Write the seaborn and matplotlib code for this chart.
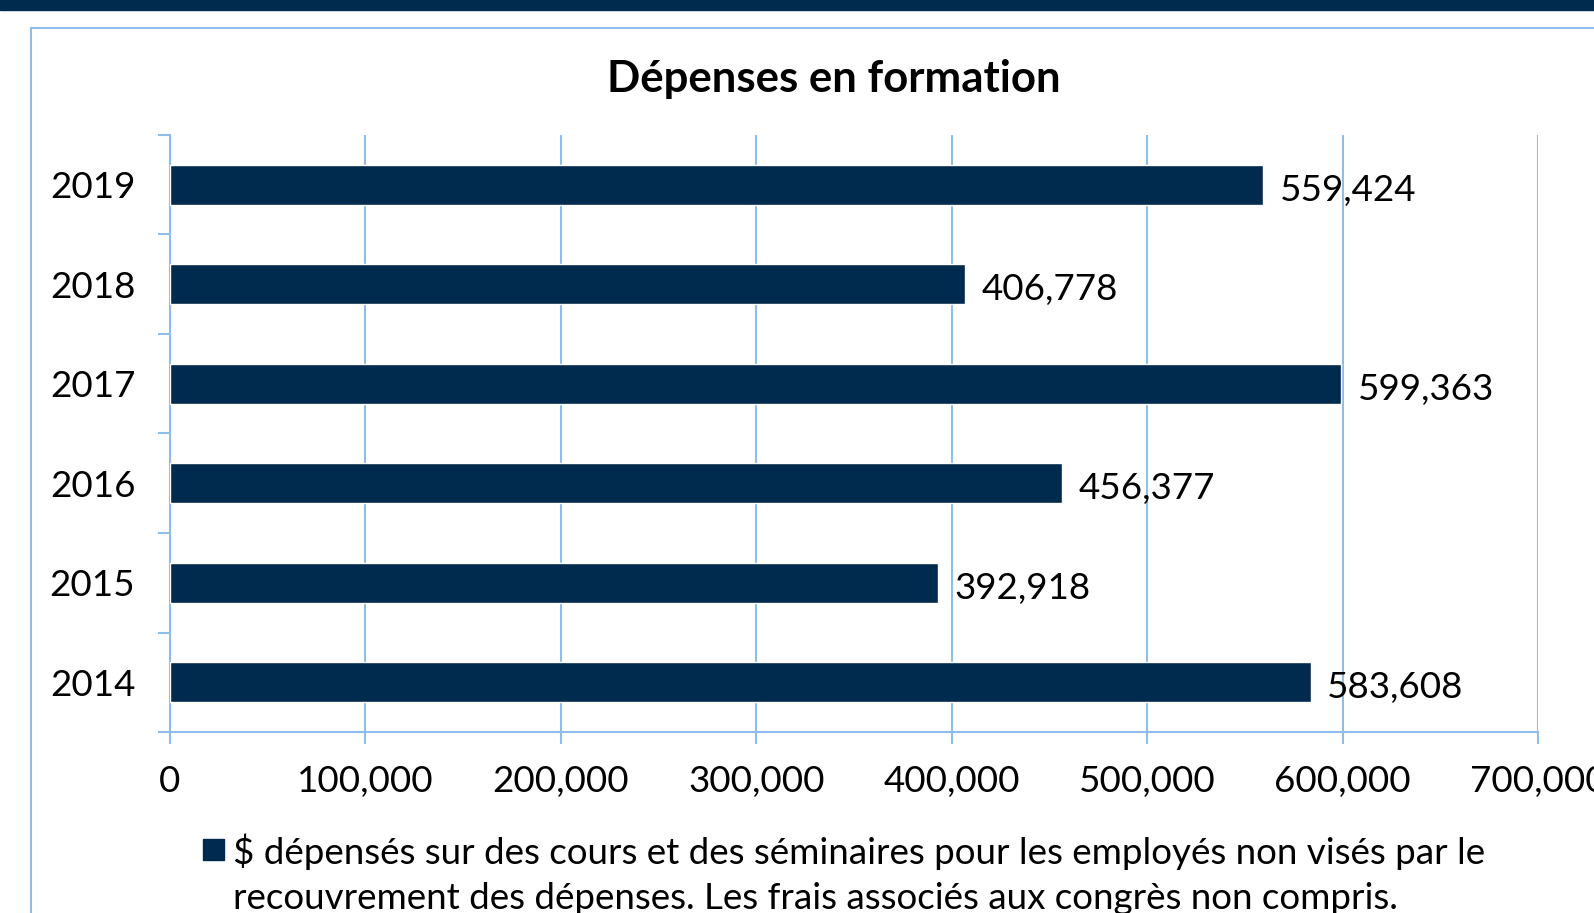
import pandas as pd
import matplotlib.pyplot as plt
import seaborn as sns
from matplotlib.patches import Rectangle
from matplotlib.ticker import FixedLocator, FuncFormatter

years = ['2019', '2018', '2017', '2016', '2015', '2014']
spent = [559424, 406778, 599363, 456377, 392918, 583608]
xticks = [0, 100000, 200000, 300000, 400000, 500000, 600000, 700000]
title = 'Dépenses en formation'
legend_lines = ['$ dépensés sur des cours et des séminaires pour les employés non visés par le',
                'recouvrement des dépenses. Les frais associés aux congrès non compris.']

navy = '#002a4e'
light = '#8dbde8'

sns.set_theme(style='white')
plt.rcParams['font.family'] = ['Lato', 'DejaVu Sans']
plt.rcParams['text.color'] = 'black'

df = pd.DataFrame({'year': years, 'spent': spent})

W, H = 1594, 913
fig = plt.figure(figsize=(W / 100, H / 100), dpi=100)
fig.patch.set_facecolor('white')

# top band and outer frame
fig.patches.append(Rectangle((0, 1 - 10 / H), 1, 10 / H, transform=fig.transFigure,
                             color=navy, zorder=0))
fig.patches.append(Rectangle((31 / W, -0.2), 2, 1.2 - 28 / H, transform=fig.transFigure,
                             fill=False, edgecolor=light, lw=1.5, zorder=0))

ax = fig.add_axes([170 / W, 1 - 732 / H, 1368 / W, 597 / H])
sns.barplot(data=df, x='spent', y='year', order=years, color=navy, width=0.4,
            saturation=1, ax=ax, zorder=3)

ax.set_xlim(0, 700000)
ax.set_xticks(xticks)
ax.xaxis.set_major_formatter(FuncFormatter(lambda v, p: f'{v:,.0f}'))
ax.grid(axis='x', color=light, lw=1.5)
ax.set_axisbelow(True)
ax.set_xlabel('')
ax.set_ylabel('')

for s in ['top', 'right']:
    ax.spines[s].set_visible(False)
for s in ['left', 'bottom']:
    ax.spines[s].set_color(light)
    ax.spines[s].set_linewidth(1.5)

ax.yaxis.set_minor_locator(FixedLocator([i - 0.5 for i in range(len(years) + 1)]))
ax.tick_params(axis='y', which='major', length=0, pad=25, labelsize=26.5, labelcolor='black')
ax.tick_params(axis='y', which='minor', left=True, length=8.6, width=1.5, color=light, direction='out')
ax.tick_params(axis='x', which='major', bottom=True, length=8.6, width=1.5, color=light,
               direction='out', pad=15, labelsize=26.5, labelcolor='black')

labels = ax.bar_label(ax.containers[0], fmt='{:,.0f}', padding=12, fontsize=26.5, color='black')
for t in labels:
    t.xyann = (12, -4)

fig.text(834 / W, 1 - 92 / H, title, ha='center', va='baseline', fontsize=31.5,
         fontweight='bold')

# legend
fig.patches.append(Rectangle((203 / W, 1 - 860 / H), 21 / W, 21 / H, transform=fig.transFigure,
                             color=navy))
fig.text(233 / W, 1 - 864 / H, legend_lines[0], ha='left', va='baseline', fontsize=26.5)
fig.text(233 / W, 1 - 909 / H, legend_lines[1], ha='left', va='baseline', fontsize=26.5)

fig.savefig('out.png', dpi=100)
